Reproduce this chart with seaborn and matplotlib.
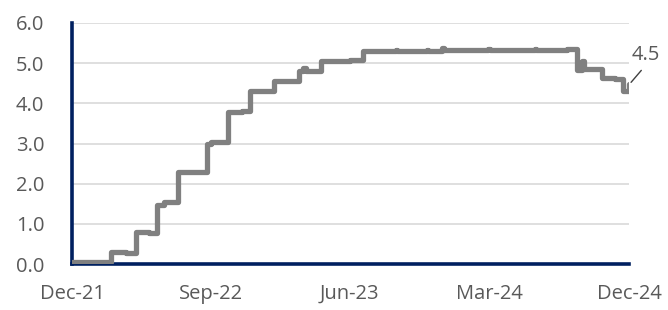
import pandas as pd
import matplotlib
matplotlib.use("Agg")
import matplotlib.pyplot as plt
import matplotlib.dates as mdates
import seaborn as sns

# Overnight rate (%), change points
rate_dates = [
    "2021-12-31", "2022-03-17", "2022-04-15", "2022-05-05", "2022-05-31",
    "2022-06-16", "2022-06-30", "2022-07-28", "2022-08-31", "2022-09-22",
    "2022-09-30", "2022-11-03", "2022-11-30", "2022-12-15", "2023-01-15",
    "2023-02-02", "2023-03-23", "2023-03-31", "2023-04-05", "2023-05-04",
    "2023-06-30", "2023-07-27", "2023-09-29", "2023-10-02", "2023-11-30",
    "2023-12-01", "2023-12-29", "2024-01-02", "2024-03-28", "2024-04-01",
    "2024-06-28", "2024-07-01", "2024-08-30", "2024-09-19", "2024-09-30",
    "2024-10-03", "2024-10-31", "2024-11-08", "2024-11-29", "2024-12-02",
    "2024-12-19", "2024-12-31",
]
rate_values = [
    0.05, 0.30, 0.28, 0.79, 0.78,
    1.48, 1.55, 2.28, 2.29, 2.98,
    3.05, 3.78, 3.82, 4.30, 4.31,
    4.55, 4.80, 4.87, 4.81, 5.05,
    5.09, 5.30, 5.33, 5.31, 5.32,
    5.31, 5.38, 5.33, 5.34, 5.32,
    5.36, 5.33, 5.34, 4.84, 5.05,
    4.85, 4.86, 4.62, 4.64, 4.60,
    4.30, 4.49,
]
tick_dates = ["2021-12-31", "2022-09-30", "2023-06-30", "2024-03-31", "2024-12-31"]
tick_labels = ["Dec-21", "Sep-22", "Jun-23", "Mar-24", "Dec-24"]
last_label = "4.5"

df = pd.DataFrame({"date": pd.to_datetime(rate_dates), "rate": rate_values})

sns.set_style("white")
plt.rcParams["font.family"] = ["Open Sans", "DejaVu Sans"]

text_grey = "#595959"
navy = "#002060"

fig = plt.figure(figsize=(6.68, 3.10), dpi=100)
ax = fig.add_axes([0.108, 0.148, 0.834, 0.778])

sns.lineplot(data=df, x="date", y="rate", ax=ax, color="#808080",
             linewidth=3.8, drawstyle="steps-post", solid_joinstyle="round",
             zorder=3)

ax.set_xlim(pd.Timestamp(tick_dates[0]), pd.Timestamp(tick_dates[-1]))
ax.set_ylim(0, 6)
ax.set_yticks([0, 1, 2, 3, 4, 5, 6])
ax.yaxis.set_major_formatter(matplotlib.ticker.FormatStrFormatter("%.1f"))
ax.set_xticks(pd.to_datetime(tick_dates))
ax.set_xticklabels(tick_labels)

ax.grid(axis="y", color="#d9d9d9", linewidth=1.2)
ax.set_axisbelow(True)
ax.set_xlabel("")
ax.set_ylabel("")

for side in ["top", "right"]:
    ax.spines[side].set_visible(False)
for side in ["left", "bottom"]:
    ax.spines[side].set_color(navy)
    ax.spines[side].set_linewidth(2.6)

ax.tick_params(axis="both", length=0, labelsize=14.5, labelcolor=text_grey)
ax.tick_params(axis="y", pad=20)
ax.tick_params(axis="x", pad=14)

ax.annotate(last_label, xy=(df["date"].iloc[-1], 4.47), xytext=(12, 14),
            textcoords="offset points", ha="center", va="bottom",
            fontsize=14.5, color=text_grey, annotation_clip=False,
            arrowprops=dict(arrowstyle="-", color="#404040", lw=1,
                            relpos=(0.5, 0), shrinkA=2, shrinkB=2))

fig.savefig("out.png", dpi=100)
